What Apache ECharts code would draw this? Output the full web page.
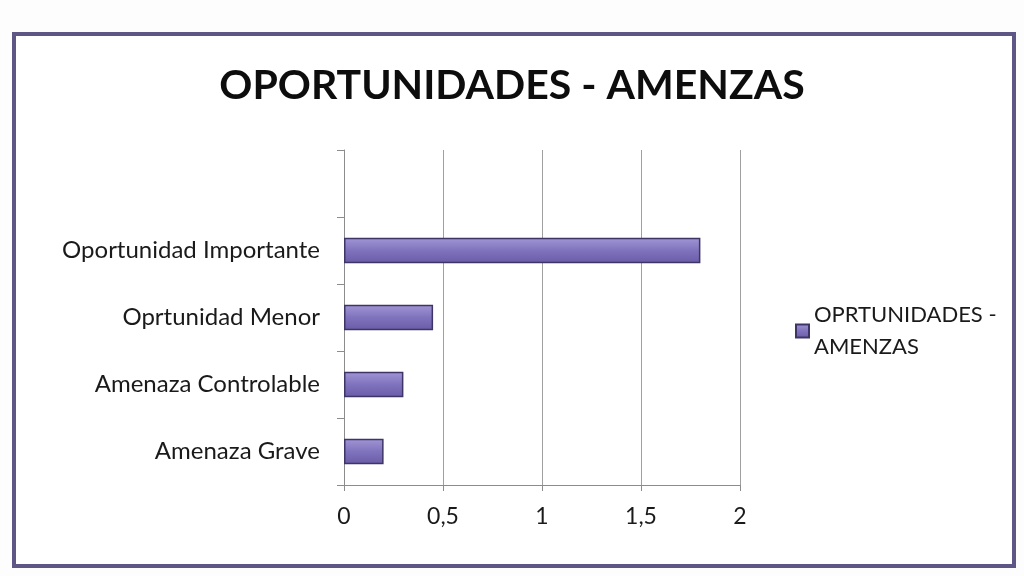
<!DOCTYPE html>
<html><head><meta charset="utf-8">
<script src="https://cdn.jsdelivr.net/npm/echarts@6/dist/echarts.min.js"></script>
<style>html,body{margin:0;padding:0;background:#fff}#c{width:1024px;height:576px}</style>
</head><body><div id="c"></div>
<script>
const categories = ['Amenaza Grave', 'Amenaza Controlable', 'Oprtunidad Menor', 'Oportunidad Importante', ''];
const values = [0.2, 0.3, 0.45, 1.8, null];
const seriesName = 'OPRTUNIDADES - AMENZAS';
const titleText = 'OPORTUNIDADES - AMENZAS';

const chart = echarts.init(document.getElementById('c'));
const font = 'Lato, "Open Sans", sans-serif';
chart.setOption({
  backgroundColor: '#fdfdfd',
  animation: false,
  graphic: [{
    type: 'rect', left: 12, top: 32, z: -1,
    shape: { width: 1000, height: 532 },
    style: { fill: '#ffffff', stroke: '#5e5685', lineWidth: 4 }
  }],
  title: {
    text: titleText, left: 'center', top: 60,
    textStyle: { fontFamily: font, fontSize: 41, fontWeight: 'bold', color: '#0d0d0d' }
  },
  legend: {
    left: 790, top: 294, orient: 'vertical',
    itemWidth: 13, itemHeight: 13, icon: 'rect', itemGap: 6,
    formatter: () => 'OPRTUNIDADES -\nAMENZAS',
    textStyle: { fontFamily: font, fontSize: 22, color: '#1a1a1a', lineHeight: 32 }
  },
  grid: { left: 344, right: 284, top: 150, bottom: 91 },
  xAxis: {
    type: 'value', min: 0, max: 2, interval: 0.5,
    axisLine: { show: true, lineStyle: { color: '#8c8c8c' } },
    axisTick: { show: true, length: 6, lineStyle: { color: '#8c8c8c' } },
    splitLine: { show: true, lineStyle: { color: '#a0a0a0' } },
    axisLabel: {
      fontFamily: font, fontSize: 23, color: '#1a1a1a', margin: 20,
      formatter: v => String(v).replace('.', ',')
    }
  },
  yAxis: {
    type: 'category', data: categories,
    axisLine: { show: true, lineStyle: { color: '#8c8c8c' } },
    axisTick: { show: true, length: 7, lineStyle: { color: '#8c8c8c' } },
    axisLabel: { fontFamily: font, fontSize: 24, color: '#1a1a1a', margin: 24 }
  },
  series: [{
    name: seriesName, type: 'bar', data: values, barWidth: '38%',
    itemStyle: {
      color: new echarts.graphic.LinearGradient(0, 0, 0, 1, [
        { offset: 0, color: '#a196d6' },
        { offset: 0.5, color: '#8073bd' },
        { offset: 1, color: '#6a5ba6' }
      ]),
      borderColor: '#3e3566', borderWidth: 1.5
    }
  }]
});
</script></body></html>
